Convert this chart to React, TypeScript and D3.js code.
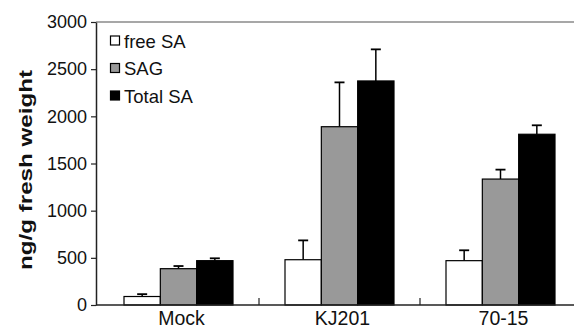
import React, { useRef, useEffect } from 'react';
import * as d3 from 'd3';

const categories = ['Mock', 'KJ201', '70-15'];
const seriesNames = ['free SA', 'SAG', 'Total SA'];
const seriesColors = ['#ffffff', '#999999', '#000000'];
const freeSA = [90, 480, 470];
const freeSAErr = [25, 205, 110];
const sag = [385, 1890, 1335];
const sagErr = [28, 470, 100];
const totalSA = [470, 2375, 1810];
const totalSAErr = [25, 335, 95];
const yTicks = [0, 500, 1000, 1500, 2000, 2500, 3000];

const W = 574;
const H = 329;
const FONT = "'Liberation Sans', Arial, sans-serif";

const App = () => {
  const svgRef = useRef<SVGSVGElement>(null);

  useEffect(() => {
    const svg = d3.select(svgRef.current);
    svg.selectAll('*').remove();

    const values = [freeSA, sag, totalSA];
    const errs = [freeSAErr, sagErr, totalSAErr];
    const axisX = 96;

    const y = d3.scaleLinear().domain([0, 3000]).range([305, 22]);
    const x = d3.scaleBand().domain(categories).range([98, 581]).padding(0);
    const inner = d3.scaleBand().domain(seriesNames).range([0, 109]).padding(0);
    const groupOffset = (x.bandwidth() - 109) / 2;

    // frame top
    svg.append('line')
      .attr('x1', axisX).attr('x2', W).attr('y1', y(3000)).attr('y2', y(3000))
      .attr('stroke', '#8a8a8a').attr('stroke-width', 1.3);

    // bars with upward error bars
    seriesNames.forEach((s, si) => {
      categories.forEach((c, ci) => {
        const bx = (x(c) as number) + groupOffset + (inner(s) as number);
        const bw = inner.bandwidth();
        const v = values[si][ci];
        const e = errs[si][ci];
        const cx = bx + bw / 2;
        svg.append('line')
          .attr('x1', cx).attr('x2', cx).attr('y1', y(v)).attr('y2', y(v + e))
          .attr('stroke', '#000').attr('stroke-width', 1.5);
        svg.append('line')
          .attr('x1', cx - 5).attr('x2', cx + 5).attr('y1', y(v + e)).attr('y2', y(v + e))
          .attr('stroke', '#000').attr('stroke-width', 1.8);
        svg.append('rect')
          .attr('x', bx).attr('y', y(v)).attr('width', bw).attr('height', y(0) - y(v))
          .attr('fill', seriesColors[si]).attr('stroke', '#000').attr('stroke-width', 1.2);
      });
    });

    // y axis
    const yAxis = svg.append('g').attr('transform', `translate(${axisX},0)`)
      .call(d3.axisLeft(y).tickValues(yTicks).tickFormat(d3.format('d')).tickSize(5).tickPadding(4).tickSizeOuter(0));
    yAxis.select('.domain').attr('stroke', '#222').attr('stroke-width', 1.5);
    yAxis.selectAll('.tick line').attr('stroke', '#222').attr('stroke-width', 1.2);
    yAxis.selectAll('.tick text')
      .attr('font-family', FONT)
      .attr('font-size', 18).attr('fill', '#111');

    // x axis
    svg.append('line')
      .attr('x1', axisX).attr('x2', W).attr('y1', y(0)).attr('y2', y(0))
      .attr('stroke', '#222').attr('stroke-width', 1.5);
    categories.slice(1).forEach((c) => {
      const tx = x(c) as number;
      svg.append('line')
        .attr('x1', tx).attr('x2', tx).attr('y1', y(0)).attr('y2', y(0) - 7)
        .attr('stroke', '#222').attr('stroke-width', 1.2);
    });
    categories.forEach((c) => {
      svg.append('text')
        .attr('x', (x(c) as number) + x.bandwidth() / 2 + 3)
        .attr('y', 325)
        .attr('text-anchor', 'middle')
        .attr('font-family', FONT)
        .attr('font-size', 19.5).attr('fill', '#111')
        .text(c);
    });

    // y label
    svg.append('text')
      .attr('transform', 'translate(32,170) rotate(-90)')
      .attr('text-anchor', 'middle')
      .attr('font-family', FONT)
      .attr('font-weight', 'bold')
      .attr('font-size', 19)
      .attr('textLength', 200)
      .attr('lengthAdjust', 'spacingAndGlyphs')
      .attr('fill', '#111')
      .text('ng/g fresh weight');

    // legend
    seriesNames.forEach((s, i) => {
      const ly = 41 + i * 27.5;
      svg.append('rect')
        .attr('x', 110.5).attr('y', ly - 5).attr('width', 9).attr('height', 9)
        .attr('fill', seriesColors[i]).attr('stroke', '#000').attr('stroke-width', 1.2);
      svg.append('text')
        .attr('x', 124).attr('y', ly + 6.5)
        .attr('font-family', FONT)
        .attr('font-size', 18.5).attr('fill', '#111')
        .text(s);
    });
  }, []);

  return (
    <svg ref={svgRef} width={W} height={H}
      style={{ position: 'absolute', left: 0, top: 0, background: '#fff' }} />
  );
};

export default App;
